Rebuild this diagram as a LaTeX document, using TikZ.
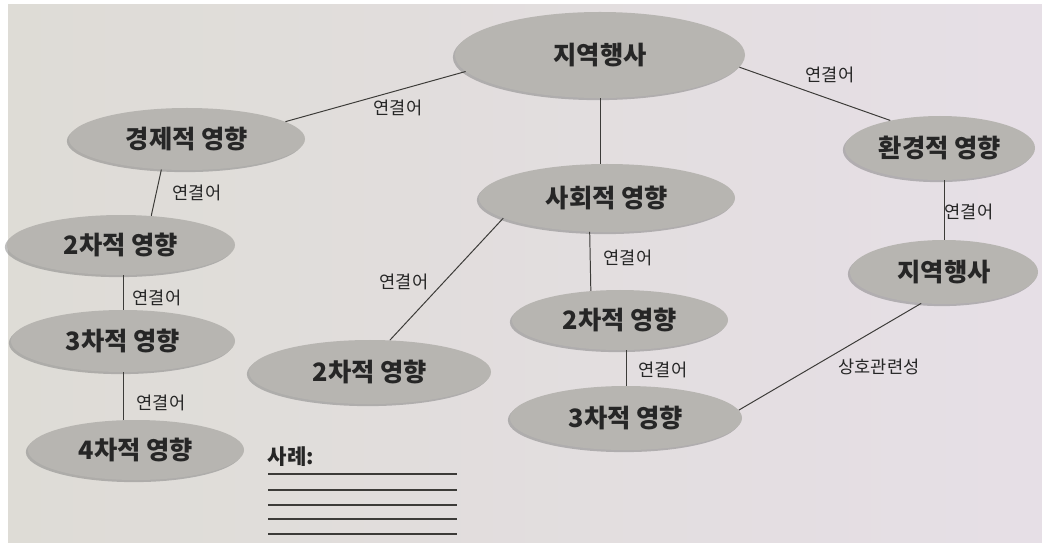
\documentclass[tikz,border=0pt]{standalone}
\usepackage{fontspec}
\setmainfont{Noto Sans CJK KR}
\usetikzlibrary{shapes.geometric,shadows}

\definecolor{paper}{HTML}{DEDCD6}
\definecolor{paperpink}{HTML}{E6DFE6}
\definecolor{ovalgray}{HTML}{B7B5B1}
\definecolor{linegray}{HTML}{3C3B38}

\tikzset{
  concept/.style={ellipse, fill=ovalgray, inner sep=0pt, text=black!85,
    font=\fontsize{18}{20}\selectfont\bfseries,
    drop shadow={shadow xshift=-1.5pt, shadow yshift=-1.5pt, fill=black!55, opacity=.45}},
  linkword/.style={inner sep=1pt, text=black!85, font=\fontsize{12.5}{14}\selectfont},
  link/.style={draw=linegray, line width=0.7pt},
}

\begin{document}
\begin{tikzpicture}[x=0.025cm, y=-0.025cm]
				\fill[white] (0,0) rectangle (1042,542);
				\shade[left color=paper, right color=paperpink] (8,4) rectangle (1042,542);
				\useasboundingbox (0,0) rectangle (1042,542);
				
				% concepts
				\node[concept, minimum width=7.25cm, minimum height=2.15cm] (event)  at (600,55)  {지역행사};
				\node[concept, minimum width=5.9cm,  minimum height=1.55cm] (econ)   at (187,139) {경제적 영향};
				\node[concept, minimum width=5.7cm,  minimum height=1.5cm]  (econA)  at (121,245) {2차적 영향};
				\node[concept, minimum width=5.6cm,  minimum height=1.55cm] (econB)  at (123,341) {3차적 영향};
				\node[concept, minimum width=5.4cm,  minimum height=1.5cm]  (econC)  at (136,450) {4차적 영향};
				\node[concept, minimum width=6.4cm,  minimum height=1.7cm]  (social) at (607,198) {사회적 영향};
				\node[concept, minimum width=6.05cm, minimum height=1.6cm]  (socL)   at (370,372) {2차적 영향};
				\node[concept, minimum width=5.4cm,  minimum height=1.5cm]  (socA)   at (620,320) {2차적 영향};
				\node[concept, minimum width=5.8cm,  minimum height=1.6cm]  (socB)   at (626,418) {3차적 영향};
				\node[concept, minimum width=4.75cm, minimum height=1.6cm]  (env)    at (940,148) {환경적 영향};
				\node[concept, minimum width=4.7cm,  minimum height=1.6cm]  (envA)   at (944,272) {지역행사};
				
				% links
				\draw[link] (event.187) -- (econ.10);
				\draw[link] (event.355) -- (env.151);
				\draw[link] (event.south) -- (event.south |- social.north);
				\draw[link] (econ.230) -- (econA.44);
				\draw[link] (econB.north |- econA.south) -- (econB.north);
				\draw[link] (econB.south) -- (econB.south |- econC.north);
				\draw[link] (social.191) -- (socL.58);
				\draw[link] (social.243) -- (socA.135);
				\draw[link] (socB.north |- socA.south) -- (socB.north);
				\draw[link] (env.south -| envA.north) -- (envA.north);
				\draw[link] (envA.234) -- (socB.4);
				
				\node[linkword] (w1)  at (398,108) {연결어};
				\node[linkword] (w2)  at (830,75)  {연결어};
				\node[linkword] (w3)  at (197,193) {연결어};
				\node[linkword] (w4)  at (157,298) {연결어};
				\node[linkword] (w5)  at (161,403) {연결어};
				\node[linkword] (w6)  at (404,282) {연결어};
				\node[linkword] (w7)  at (628,258) {연결어};
				\node[linkword] (w8)  at (663,370) {연결어};
				\node[linkword] (w9)  at (969,212) {연결어};
				\node[linkword] (w10) at (879,367) {상호관련성};
				
				% examples
				\node[linkword, anchor=west, font=\fontsize{15}{17}\selectfont\bfseries] (ex) at (266,457) {사례:};
				\foreach \y in {474,490,505,519,534}
					\draw[link, line width=0.9pt] (268,\y) -- (457,\y);
			\end{tikzpicture}
\end{document}
